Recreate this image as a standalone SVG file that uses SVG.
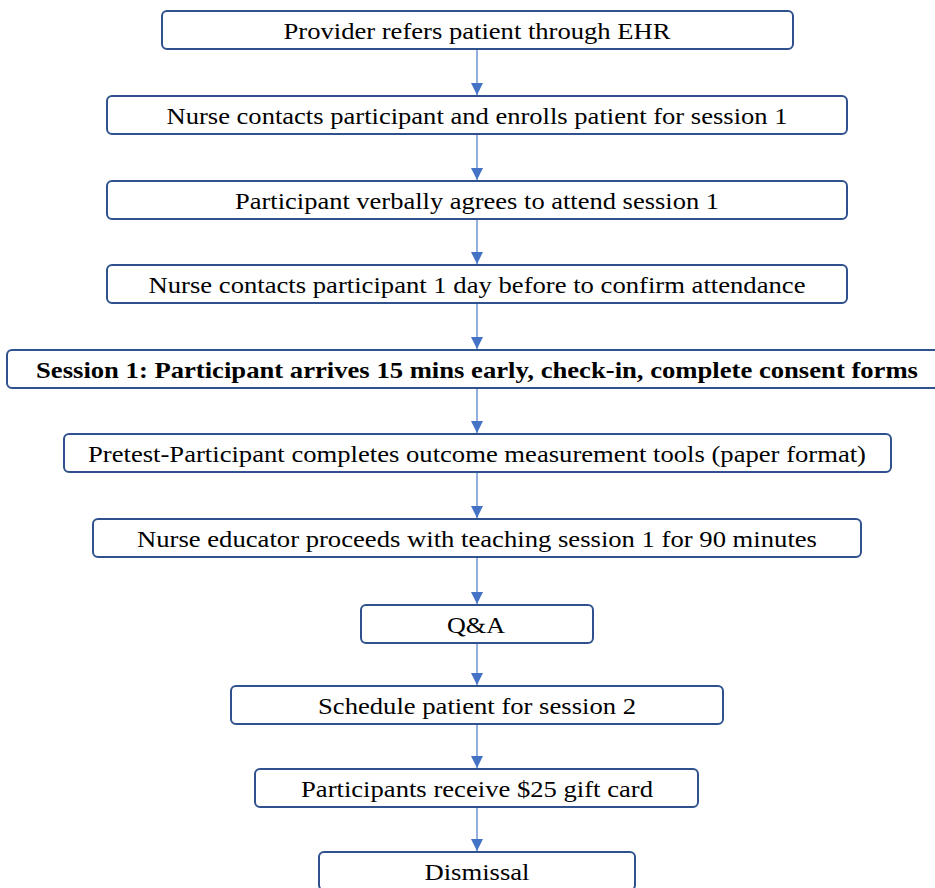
<svg xmlns="http://www.w3.org/2000/svg" width="935" height="888" viewBox="0 0 935 888">
  <style>
    .box { fill: #ffffff; stroke: #2f528f; stroke-width: 2; }
    .lbl { font-family: "Liberation Serif", "Times New Roman", serif; font-size: 24px; fill: #000; text-anchor: middle; }
    .bold { font-weight: bold; }
    .conn { stroke: #6f95d6; stroke-width: 1.5; fill: none; marker-end: url(#arrow); }
  </style>
  <defs>
    <marker id="arrow" viewBox="0 0 12 12" markerWidth="12" markerHeight="12" refX="12" refY="6" orient="auto" markerUnits="userSpaceOnUse">
      <path d="M0,0 L12,6 L0,12 Z" fill="#4472c4"/>
    </marker>
  </defs>

  <g id="connectors">
    <line class="conn" x1="477" y1="50" x2="477" y2="95"/>
    <line class="conn" x1="477" y1="135" x2="477" y2="180"/>
    <line class="conn" x1="477" y1="220" x2="477" y2="264"/>
    <line class="conn" x1="477" y1="304" x2="477" y2="349"/>
    <line class="conn" x1="477" y1="389" x2="477" y2="433"/>
    <line class="conn" x1="477" y1="473" x2="477" y2="518"/>
    <line class="conn" x1="477" y1="558" x2="477" y2="604"/>
    <line class="conn" x1="477" y1="644" x2="477" y2="685"/>
    <line class="conn" x1="477" y1="725" x2="477" y2="768"/>
    <line class="conn" x1="477" y1="808" x2="477" y2="851"/>
  </g>

  <g id="n1"><rect class="box" x="162" y="11" width="631" height="38" rx="5"/><text class="lbl" x="477" y="39" textLength="387" lengthAdjust="spacingAndGlyphs">Provider refers patient through EHR</text></g>
  <g id="n2"><rect class="box" x="107" y="96" width="740" height="38" rx="5"/><text class="lbl" x="477" y="124" textLength="621" lengthAdjust="spacingAndGlyphs">Nurse contacts participant and enrolls patient for session 1</text></g>
  <g id="n3"><rect class="box" x="107" y="181" width="740" height="38" rx="5"/><text class="lbl" x="477" y="209" textLength="484" lengthAdjust="spacingAndGlyphs">Participant verbally agrees to attend session 1</text></g>
  <g id="n4"><rect class="box" x="107" y="265" width="740" height="38" rx="5"/><text class="lbl" x="477" y="293" textLength="657" lengthAdjust="spacingAndGlyphs">Nurse contacts participant 1 day before to confirm attendance</text></g>
  <g id="n5"><rect class="box" x="7" y="350" width="940" height="38" rx="5"/><text class="lbl bold" x="477" y="378" textLength="882" lengthAdjust="spacingAndGlyphs">Session 1: Participant arrives 15 mins early, check-in, complete consent forms</text></g>
  <g id="n6"><rect class="box" x="64" y="434" width="827" height="38" rx="5"/><text class="lbl" x="477" y="462" textLength="778" lengthAdjust="spacingAndGlyphs">Pretest-Participant completes outcome measurement tools (paper format)</text></g>
  <g id="n7"><rect class="box" x="93" y="519" width="768" height="38" rx="5"/><text class="lbl" x="477" y="547" textLength="680" lengthAdjust="spacingAndGlyphs">Nurse educator proceeds with teaching session 1 for 90 minutes</text></g>
  <g id="n8"><rect class="box" x="361" y="605" width="232" height="38" rx="5"/><text class="lbl" x="476" y="633" textLength="58" lengthAdjust="spacingAndGlyphs">Q&amp;A</text></g>
  <g id="n9"><rect class="box" x="231" y="686" width="492" height="38" rx="5"/><text class="lbl" x="477" y="714" textLength="318" lengthAdjust="spacingAndGlyphs">Schedule patient for session 2</text></g>
  <g id="n10"><rect class="box" x="255" y="769" width="443" height="38" rx="5"/><text class="lbl" x="477" y="797" textLength="352" lengthAdjust="spacingAndGlyphs">Participants receive $25 gift card</text></g>
  <g id="n11"><rect class="box" x="319" y="852" width="316" height="38" rx="5"/><text class="lbl" x="477" y="880" textLength="105" lengthAdjust="spacingAndGlyphs">Dismissal</text></g>
</svg>
